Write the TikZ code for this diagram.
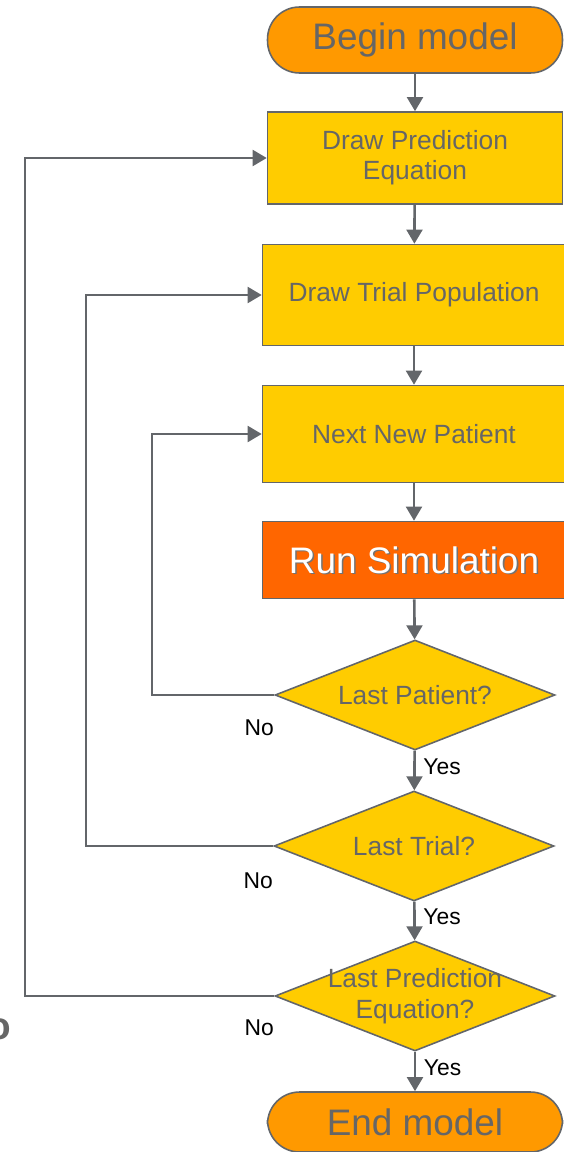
\documentclass[tikz,border=0pt]{standalone}
\usepackage{fontspec}
\setmainfont{Liberation Sans}
\usetikzlibrary{arrows.meta, positioning, shapes.geometric}
\definecolor{linegray}{HTML}{63666A}
\definecolor{textgray}{HTML}{666666}
\definecolor{termorange}{HTML}{FF9900}
\definecolor{stepyellow}{HTML}{FFCC00}
\definecolor{runorange}{HTML}{FF6600}

\begin{document}
\begin{tikzpicture}[x=0.02cm,y=-0.02cm,>={Triangle[width=9pt,length=8pt]},
	terminal/.style={draw=linegray, line width=0.9pt, fill=termorange, rounded corners=0.64cm,
		minimum width=5.9cm, text=textgray, font=\fontsize{21}{24}\selectfont},
	stepbox/.style={draw=linegray, line width=0.9pt, fill=stepyellow, text=textgray,
		align=center, font=\fontsize{15}{17}\selectfont},
	decision/.style={diamond, draw=linegray, line width=0.9pt, fill=stepyellow, inner sep=0pt,
		minimum width=5.6cm, minimum height=2.2cm},
	dtext/.style={text=textgray, align=center, font=\fontsize{15}{18}\selectfont},
	answer/.style={text=black, font=\fontsize{13}{15}\selectfont},
	flow/.style={->, draw=linegray, line width=1.5pt}]
				% Fix the page to the picture
				\useasboundingbox (0,0) rectangle (564,1152);
				
				% Draw the start and the steps
				\node[terminal, minimum height=1.32cm] (begin) at (415,40) {Begin model};
				\node[stepbox, minimum width=5.9cm, minimum height=1.84cm] (drawpred) at (415,158) {Draw Prediction\\Equation};
				\node[stepbox, minimum width=6.06cm, minimum height=2.02cm] (drawtrial) at (414,295) {Draw Trial Population};
				\node[stepbox, minimum width=6.06cm, minimum height=1.94cm] (nextpat) at (414,434) {Next New Patient};
				\node[stepbox, minimum width=6.06cm, minimum height=1.54cm, fill=runorange,
					label={[text=black!55, xshift=0.9pt, yshift=-0.9pt, font=\fontsize{21}{24}\selectfont]center:Run Simulation},
					label={[text=white, font=\fontsize{21}{24}\selectfont]center:Run Simulation}] (runsim) at (414,560) {};
				
				% Draw the decisions
				\node[decision, label={[dtext]center:Last Patient?}] (lastpat) at (415,695) {};
				\node[decision, label={[dtext]center:Last Trial?}] (lasttrial) at (414,846) {};
				\node[decision, label={[dtext]center:Last Prediction\\Equation?}] (lastpred) at (415,996) {};
				
				% Draw the end
				\node[terminal, minimum height=1.2cm] (endmod) at (415,1122) {End model};
				
				% Place the corners of the loops
				\coordinate (loopa) at (152,0);
				\coordinate (loopb) at (86,0);
				\coordinate (loopc) at (25,0);
				
				% Draw the main arrows
				\draw[flow] (begin) -- (drawpred);
				\draw[flow] (drawpred) -- (drawtrial);
				\draw[flow] (drawtrial) -- (nextpat);
				\draw[flow] (nextpat) -- (runsim);
				\draw[flow] (runsim) -- (lastpat);
				\draw[flow] (lastpat) -- node[answer, pos=0.4, right=1pt] (yespat) {Yes} (lasttrial);
				\draw[flow] (lasttrial) -- node[answer, pos=0.4, right=1pt] (yestrial) {Yes} (lastpred);
				\draw[flow] (lastpred) -- node[answer, pos=0.4, right=1pt] (yespred) {Yes} (endmod);
				
				% Draw the loops back
				\draw[flow] (lastpat.west) -- (lastpat.west -| loopa) |- (nextpat.west);
				\draw[flow] (lasttrial.west) -- (lasttrial.west -| loopb) |- (drawtrial.west);
				\draw[flow] (lastpred.west) -- (lastpred.west -| loopc) |- (drawpred.west);
				
				% Label the No answers
				\node[answer] (nopat) at ([shift={(-15,33)}]lastpat.west) {No};
				\node[answer] (notrial) at ([shift={(-15,35)}]lasttrial.west) {No};
				\node[answer] (nopred) at ([shift={(-15,32)}]lastpred.west) {No};
				
				% Cut-off letter at the left edge
				\node[text=textgray, inner sep=0pt, anchor=base east, font=\fontsize{22}{24}\selectfont\bfseries] (cutletter) at (11,1039) {o};
			\end{tikzpicture}
\end{document}
